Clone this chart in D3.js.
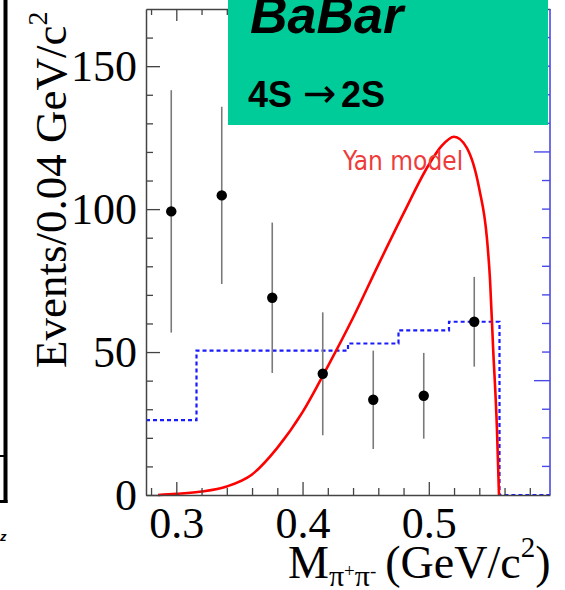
<!DOCTYPE html>
<html>
<head>
<meta charset="utf-8">
<script src="https://cdn.jsdelivr.net/npm/d3@7"></script>
<style>
  html, body { margin: 0; padding: 0; background: #fff; }
  svg { display: block; }
</style>
</head>
<body>
<svg id="chart" width="565" height="590"></svg>
<script>
// Measured pi+pi- invariant mass spectrum, 0.04 GeV/c^2 bins
const massCenters = [0.296, 0.336, 0.376, 0.416, 0.456, 0.496, 0.536];
const eventCounts = [99.2, 104.8, 69.0, 42.4, 33.3, 34.7, 60.6];
const eventErrors = [42.4, 31.0, 26.3, 21.5, 17.2, 15.0, 15.7];

// Phase-space histogram (dashed blue): bin edges and contents
const psEdges  = [0.276, 0.316, 0.356, 0.396, 0.436, 0.476, 0.516, 0.556, 0.596];
const psCounts = [26.2, 50.5, 50.5, 50.5, 53.0, 57.6, 60.6, 0];

// Yan model prediction (red curve)
const yanMass   = [0.2855, 0.300, 0.320, 0.340, 0.360, 0.380, 0.400, 0.420, 0.440, 0.460,
                   0.480, 0.500, 0.510, 0.520, 0.530, 0.540, 0.546, 0.5485, 0.5509, 0.5540, 0.5556];
const yanEvents = [0, 0.4, 1.2, 3.0, 7.2, 16.5, 29.0, 45.0, 62.0, 80.5,
                   98.5, 115.5, 122.0, 125.3, 121.5, 107.0, 90.0, 75.3, 51.8, 22.8, 0];

// Axis tick values
const xMajorTicks = [0.3, 0.4, 0.5];
const xMinorTicks = [0.28, 0.32, 0.34, 0.36, 0.38, 0.42, 0.44, 0.46, 0.48, 0.52, 0.54, 0.56, 0.58];
const yMajorTicks = [0, 50, 100, 150];
const yMinorTicks = [10, 20, 30, 40, 60, 70, 80, 90, 110, 120, 130, 140, 160];
const rightTicks  = [10, 20, 30, 40, 50, 60, 70, 80, 90, 100, 110, 120, 130, 140, 150, 160];
const rightLongTicks = [40, 120];

const svg = d3.select("#chart");
const L = 146, R = 550, T = 9, B = 495;

const x = d3.scaleLinear().domain([0.276, 0.596]).range([L, R]);
const y = d3.scaleLinear().domain([0, 170]).range([B, T]);

const axisColor = "#444";
const serif = "'Liberation Serif', 'Times New Roman', serif";

// Fragment of the neighbouring panel at the left edge
const frag = svg.append("g").attr("stroke", "#000").attr("fill", "none");
frag.append("line").attr("x1", 5.5).attr("x2", 5.5).attr("y1", 0).attr("y2", 503).attr("stroke-width", 4);
frag.append("line").attr("x1", 0).attr("x2", 7).attr("y1", 456).attr("y2", 456).attr("stroke-width", 2);
frag.append("line").attr("x1", 0).attr("x2", 7.5).attr("y1", 501.5).attr("y2", 501.5).attr("stroke-width", 3);
svg.append("text").attr("x", 0).attr("y", 541)
  .attr("font-family", "'Liberation Sans', Arial, sans-serif")
  .attr("font-weight", "bold").attr("font-style", "italic")
  .attr("font-size", 13).attr("fill", "#000").text("z");

// Phase-space histogram
const psPts = [];
psCounts.forEach((c, i) => { psPts.push([psEdges[i], c]); psPts.push([psEdges[i + 1], c]); });
svg.append("path")
  .attr("d", d3.line().x(d => x(d[0])).y(d => y(d[1]))(psPts))
  .attr("fill", "none").attr("stroke", "#1a1aff").attr("stroke-width", 2.2)
  .attr("stroke-dasharray", "4,3");

// Yan model curve
svg.append("path")
  .attr("d", d3.line().x((d, i) => x(yanMass[i])).y(d => y(d)).curve(d3.curveMonotoneX)(yanEvents))
  .attr("fill", "none").attr("stroke", "#ff0000").attr("stroke-width", 2.6);

// Data points with error bars
const pts = svg.append("g");
pts.selectAll("line").data(massCenters).join("line")
  .attr("x1", d => x(d)).attr("x2", d => x(d))
  .attr("y1", (d, i) => y(eventCounts[i] + eventErrors[i]))
  .attr("y2", (d, i) => y(eventCounts[i] - eventErrors[i]))
  .attr("stroke", "#7a7a7a").attr("stroke-width", 1.6);
pts.selectAll("circle").data(massCenters).join("circle")
  .attr("cx", d => x(d)).attr("cy", (d, i) => y(eventCounts[i]))
  .attr("r", 5.2).attr("fill", "#000");

// Frame: left and bottom axes with labels, top axis ticks
const styleAxis = g => {
  g.select(".domain").attr("stroke", axisColor).attr("stroke-width", 1.5);
  g.selectAll(".tick line").attr("stroke", axisColor).attr("stroke-width", 1.3);
  g.selectAll("text").attr("font-family", serif).attr("fill", "#000");
};

svg.append("g").attr("transform", `translate(${L},0)`)
  .call(d3.axisLeft(y).tickValues(yMajorTicks).tickSize(-14).tickSizeOuter(0).tickPadding(9)
    .tickFormat(d3.format("d")))
  .call(styleAxis)
  .call(g => g.selectAll("text").attr("font-size", 44));
svg.append("g").attr("transform", `translate(${L},0)`)
  .call(d3.axisLeft(y).tickValues(yMinorTicks).tickSize(-7).tickSizeOuter(0).tickFormat(""))
  .call(styleAxis).call(g => g.select(".domain").remove());

svg.append("g").attr("transform", `translate(0,${B})`)
  .call(d3.axisBottom(x).tickValues(xMajorTicks).tickSize(-13).tickSizeOuter(0).tickPadding(12)
    .tickFormat(d3.format(".1f")))
  .call(styleAxis)
  .call(g => g.selectAll("text").attr("font-size", 44));
svg.append("g").attr("transform", `translate(0,${B})`)
  .call(d3.axisBottom(x).tickValues(xMinorTicks).tickSize(-7).tickSizeOuter(0).tickFormat(""))
  .call(styleAxis).call(g => g.select(".domain").remove());

svg.append("g").attr("transform", `translate(0,${T})`)
  .call(d3.axisTop(x).tickValues(xMajorTicks).tickSize(-12).tickSizeOuter(0).tickFormat(""))
  .call(styleAxis);
svg.append("g").attr("transform", `translate(0,${T})`)
  .call(d3.axisTop(x).tickValues(xMinorTicks).tickSize(-6).tickSizeOuter(0).tickFormat(""))
  .call(styleAxis).call(g => g.select(".domain").remove());

// Right-hand axis of the overlaid histogram (blue)
const rAxis = svg.append("g").attr("stroke", "#4a4ae6");
rAxis.append("line").attr("x1", R).attr("x2", R).attr("y1", T).attr("y2", B).attr("stroke-width", 1.6);
rAxis.selectAll("line.t").data(rightTicks).join("line").attr("class", "t")
  .attr("x1", R).attr("x2", d => R - (rightLongTicks.includes(d) ? 16 : 8))
  .attr("y1", d => y(d)).attr("y2", d => y(d)).attr("stroke-width", 1.4);

// Axis titles
svg.append("text")
  .attr("transform", "translate(66,368) rotate(-90)")
  .attr("font-family", serif).attr("font-size", 45).attr("fill", "#000")
  .text("Events/0.04 GeV/c")
  .append("tspan").attr("font-size", 28).attr("dy", -19).text("2");

const xt = svg.append("text").attr("x", 288).attr("y", 578)
  .attr("font-family", serif).attr("font-size", 46).attr("fill", "#000");
xt.append("tspan").text("M");
xt.append("tspan").attr("font-size", 30).attr("dy", 8).text("π");
xt.append("tspan").attr("font-size", 19).attr("dy", -9).text("+");
xt.append("tspan").attr("font-size", 30).attr("dy", 9).text("π");
xt.append("tspan").attr("font-size", 19).attr("dy", -9).text("-");
xt.append("tspan").attr("dx", 9).attr("dy", 1).text("(GeV/c");
xt.append("tspan").attr("font-size", 29).attr("dy", -21).text("2");
xt.append("tspan").attr("dy", 21).text(")");

// Experiment label box
svg.append("rect").attr("x", 228).attr("y", 0).attr("width", 320).attr("height", 125)
  .attr("fill", "#00cc99");
svg.append("text").attr("x", 250).attr("y", 33)
  .attr("font-family", "'Liberation Sans', Arial, sans-serif")
  .attr("font-weight", "bold").attr("font-style", "italic").attr("font-size", 52)
  .attr("fill", "#000").text("BaBar");
const tr = svg.append("text").attr("y", 107)
  .attr("font-family", "'Liberation Sans', Arial, sans-serif")
  .attr("font-weight", "bold").attr("font-size", 36).attr("fill", "#000");
tr.append("tspan").attr("x", 248).text("4S");
tr.append("tspan").attr("x", 303).attr("font-weight", "normal")
  .attr("font-family", "'DejaVu Sans', sans-serif").attr("font-size", 40).text("→");
tr.append("tspan").attr("x", 341).text("2S");

// Curve label
svg.append("text").attr("x", 343).attr("y", 170)
  .attr("font-family", "'DejaVu Sans Condensed', 'DejaVu Sans', sans-serif")
  .attr("font-stretch", "condensed")
  .attr("font-size", 26).attr("fill", "#ee3b3b").text("Yan model");
</script>
</body>
</html>
